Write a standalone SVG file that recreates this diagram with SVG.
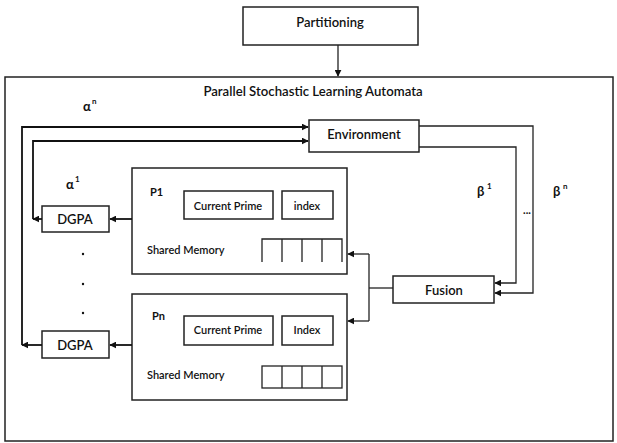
<svg xmlns="http://www.w3.org/2000/svg" width="617" height="443" viewBox="0 0 617 443">
  <defs>
    <style>
      .box { fill: #fff; stroke: #222; stroke-width: 1.5; }
      .wire { fill: none; stroke: #111; stroke-width: 1.8; }
      .thin { fill: none; stroke: #222; stroke-width: 1.3; }
      text { font-family: Lato, "Liberation Sans", sans-serif; fill: #111; }
      .lbl { font-size: 13px; font-weight: bold; text-anchor: middle; dominant-baseline: central; }
      .sm { font-size: 11px; font-weight: bold; dominant-baseline: central; }
      .greek { font-size: 13px; font-weight: bold; }
      .sup { font-size: 8px; font-weight: bold; }
    </style>
    <marker id="ah" viewBox="0 0 10 10" refX="9" refY="5" markerWidth="7" markerHeight="7" markerUnits="userSpaceOnUse" orient="auto">
      <path d="M0,0 L10,5 L0,10 z" fill="#111"/>
    </marker>
  </defs>
  <rect width="617" height="443" fill="#fff"/>

  <!-- outer frame -->
  <g id="frame">
    <rect x="5" y="77" width="608" height="364" class="box"/>
    <text x="313" y="91" class="lbl" style="font-weight:600;font-size:13.2px">Parallel Stochastic Learning Automata</text>
  </g>

  <g id="partitioning">
    <rect x="243" y="7" width="175" height="38" class="box"/>
    <text x="330" y="22" class="lbl" style="font-weight:600">Partitioning</text>
  </g>

  <g id="environment">
    <rect x="309" y="120" width="110" height="32" class="box"/>
    <text x="364" y="134" class="lbl" style="font-weight:600">Environment</text>
  </g>

  <g id="fusion">
    <rect x="393" y="276" width="101" height="27" class="box"/>
    <text x="444" y="290" class="lbl" style="font-weight:600">Fusion</text>
  </g>

  <g id="p1">
    <rect x="132" y="168" width="215" height="106" class="box"/>
    <text x="150" y="191" class="sm">P1</text>
    <rect x="184" y="191" width="89" height="28" class="box"/>
    <text x="228" y="205" class="sm" text-anchor="middle" style="font-weight:600">Current Prime</text>
    <rect x="282" y="191" width="51" height="28" class="box"/>
    <text x="307" y="205" class="sm" text-anchor="middle" style="font-weight:600">index</text>
    <text x="147" y="249" class="sm" style="font-weight:600">Shared Memory</text>
    <path d="M262,262 V239 H342 V262 M282,239 V262 M302,239 V262 M322,239 V262" class="thin"/>
  </g>

  <g id="pn">
    <rect x="132" y="294" width="215" height="106" class="box"/>
    <text x="152" y="315" class="sm">Pn</text>
    <rect x="184" y="316" width="89" height="29" class="box"/>
    <text x="228" y="329" class="sm" text-anchor="middle" style="font-weight:600">Current Prime</text>
    <rect x="282" y="316" width="51" height="29" class="box"/>
    <text x="307" y="329" class="sm" text-anchor="middle" style="font-weight:600">Index</text>
    <text x="147" y="374" class="sm" style="font-weight:600">Shared Memory</text>
    <rect x="262" y="366" width="80" height="22" class="thin"/>
    <path d="M282,366 V388 M302,366 V388 M322,366 V388" class="thin"/>
  </g>

  <g id="dgpa1">
    <rect x="42" y="206" width="67" height="26" class="box"/>
    <text x="75" y="219" class="lbl" style="font-weight:600">DGPA</text>
  </g>

  <g id="dgpan">
    <rect x="42" y="331" width="67" height="27" class="box"/>
    <text x="75" y="345" class="lbl" style="font-weight:600">DGPA</text>
  </g>

  <!-- labels and ellipsis dots -->
  <g id="labels">
    <text x="83" y="111" class="greek">α</text><text x="92" y="104" class="sup">n</text>
    <text x="66" y="189" class="greek">α</text><text x="75" y="182" class="sup">1</text>
    <text x="477" y="196" class="greek">β</text><text x="487" y="189" class="sup">1</text>
    <text x="553" y="196" class="greek">β</text><text x="563" y="189" class="sup">n</text>
    <text x="527" y="209" class="sm" text-anchor="middle">...</text>
    <circle cx="83" cy="254" r="1.2" fill="#111"/>
    <circle cx="83" cy="284" r="1.2" fill="#111"/>
    <circle cx="83" cy="313" r="1.2" fill="#111"/>
  </g>

  <g id="connectors">
    <path d="M338,45 V76" class="thin" marker-end="url(#ah)"/>
    <!-- environment outputs to fusion -->
    <path d="M419,126 H533 V293 H495" class="thin" marker-end="url(#ah)"/>
    <path d="M419,147 H516 V283 H495" class="thin" marker-end="url(#ah)"/>
    <!-- fusion to processors -->
    <path d="M393,288 H369" class="thin"/>
    <path d="M369,254 V321" class="thin"/>
    <path d="M369,254 H348" class="thin" marker-end="url(#ah)"/>
    <path d="M369,321 H348" class="thin" marker-end="url(#ah)"/>
    <!-- processors to DGPA -->
    <path d="M132,219 H110" class="wire" marker-end="url(#ah)"/>
    <path d="M132,345 H110" class="wire" marker-end="url(#ah)"/>
    <!-- DGPA back to environment -->
    <path d="M42,219 H33" class="wire" marker-end="url(#ah)"/>
    <path d="M33,219 V141 H308" class="wire" marker-end="url(#ah)"/>
    <path d="M42,345 H22" class="wire" marker-end="url(#ah)"/>
    <path d="M22,345 V127 H308" class="wire" marker-end="url(#ah)"/>
  </g>
</svg>
